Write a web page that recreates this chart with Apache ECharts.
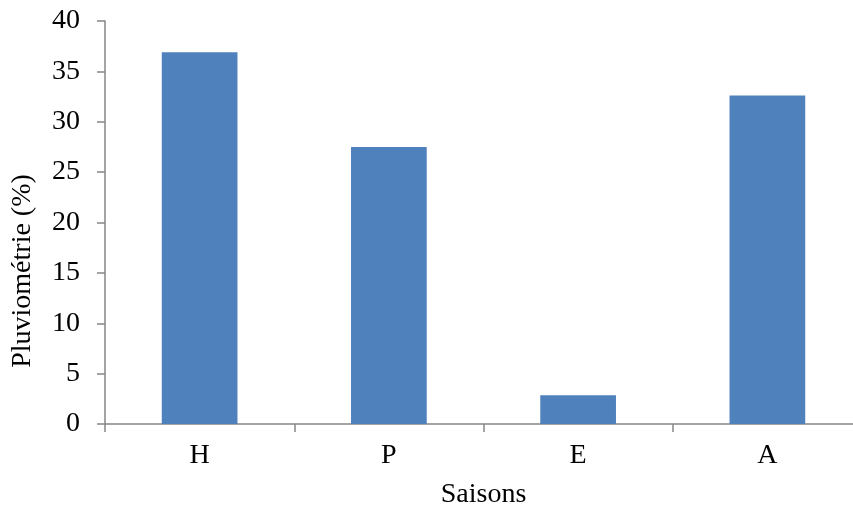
<!DOCTYPE html>
<html>
<head>
<meta charset="utf-8">
<script src="https://cdn.jsdelivr.net/npm/echarts@6/dist/echarts.min.js"></script>
<style>
html,body{margin:0;padding:0;background:#fff;}
#chart{width:853px;height:509px;}
</style>
</head>
<body>
<div id="chart"></div>
<script>
const categories = ['H', 'P', 'E', 'A'];
const values = [36.9, 27.5, 2.85, 32.6];
const yTicks = { min: 0, max: 40, interval: 5 };
const xTitle = 'Saisons';
const yTitle = 'Pluviométrie (%)';

const font = '"Liberation Serif", "Times New Roman", serif';
const chart = echarts.init(document.getElementById('chart'));
chart.setOption({
  animation: false,
  backgroundColor: '#ffffff',
  grid: { left: 105, top: 21, width: 757, height: 403, containLabel: false, outerBoundsMode: 'none' },
  xAxis: {
    type: 'category',
    data: categories,
    name: xTitle,
    nameLocation: 'middle',
    nameGap: 57,
    nameTextStyle: { fontFamily: font, fontSize: 28, color: '#000' },
    axisLine: { lineStyle: { color: '#868686', width: 1.5 } },
    axisTick: { show: true, length: 8, lineStyle: { color: '#868686', width: 1.5 } },
    axisLabel: { fontFamily: font, fontSize: 28, color: '#000', margin: 18 },
    splitLine: { show: false }
  },
  yAxis: {
    type: 'value',
    min: yTicks.min,
    max: yTicks.max,
    interval: yTicks.interval,
    axisLine: { show: true, lineStyle: { color: '#868686', width: 1.5 } },
    axisTick: { show: true, length: 8, lineStyle: { color: '#868686', width: 1.5 } },
    axisLabel: { fontFamily: font, fontSize: 28, color: '#000', margin: 25 },
    splitLine: { show: false }
  },
  graphic: [{
    type: 'text',
    x: 23,
    y: 271,
    rotation: Math.PI / 2,
    style: {
      text: yTitle,
      fontFamily: font,
      fontSize: 28,
      fill: '#000',
      textAlign: 'center',
      textVerticalAlign: 'middle'
    }
  }],
  series: [{
    type: 'bar',
    data: values,
    barWidth: '40%',
    itemStyle: { color: '#4F81BD' }
  }]
});
</script>
</body>
</html>
